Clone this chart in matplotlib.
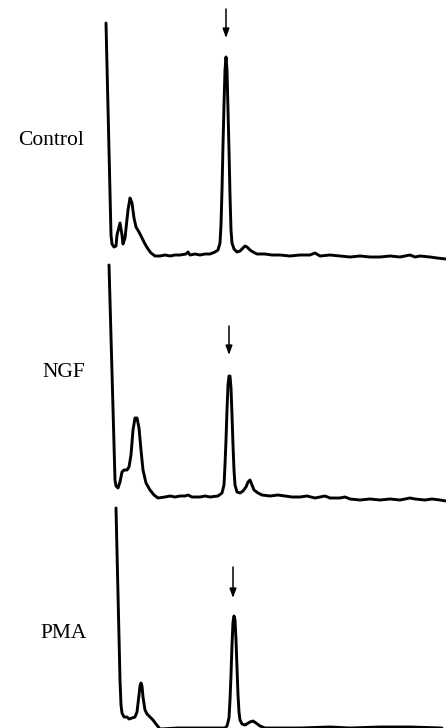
import matplotlib
matplotlib.use("Agg")
import matplotlib.pyplot as plt
import numpy as np

# ---- data: retention position (x) and detector signal above baseline ----
control_t = [106, 111, 112, 114, 116, 117, 120, 122, 123, 125, 128, 130, 132, 134, 136, 139, 142, 145,
             148, 151, 155, 160, 165, 170, 175, 180, 186, 188, 190, 195, 200, 205, 210, 215, 218, 220,
             221, 222, 223, 224, 225, 226, 227, 228, 229, 230, 231, 232, 234, 237, 240, 243, 245, 247,
             250, 253, 257, 265, 272, 280, 290, 300, 310, 315, 320, 330, 340, 350, 360, 370, 380, 390,
             400, 410, 415, 420, 430, 437, 446]
control_s = [233, 21, 12, 9, 10, 21, 33, 21, 12, 18, 46, 58, 53, 38, 29, 24, 18, 12,
             7, 3, 0, 0, 1, 0, 1, 1, 2, 4, 1, 2, 1, 2, 2, 4, 6, 13,
             31, 66, 111, 151, 186, 199, 186, 146, 106, 61, 26, 13, 7, 4, 5, 8, 10, 9,
             6, 4, 2, 2, 1, 1, 0, 1, 1, 3, 0, 1, 0, -1, 0, -1, -1, 0,
             -1, 1, -1, 0, -1, -2, -3]

ngf_t = [109, 115, 116, 118, 120, 122, 124, 127, 129, 131, 133, 135, 137, 139, 141, 143, 146, 150,
         154, 158, 165, 170, 175, 180, 185, 188, 192, 200, 205, 210, 218, 222, 224, 225, 226, 227,
         228, 229, 230, 231, 232, 233, 234, 235, 237, 240, 243, 246, 248, 250, 252, 254, 258, 262,
         270, 278, 285, 292, 300, 307, 315, 325, 330, 340, 345, 350, 360, 370, 380, 390, 400, 410,
         415, 425, 432, 440, 446]
ngf_s = [232, 17, 11, 9, 15, 25, 27, 27, 30, 42, 67, 79, 79, 69, 47, 27, 14, 7,
         2, -1, 0, 1, 0, 1, 1, 2, 0, 0, 1, 0, 1, 4, 12, 32, 57, 87,
         112, 121, 121, 109, 82, 52, 27, 12, 5, 4, 6, 10, 15, 17, 12, 7, 4, 2,
         1, 2, 1, 0, 0, 1, -1, 1, -1, -1, 0, -2, -3, -2, -3, -2, -3, -1,
         -2, -3, -2, -3, -4]

pma_t = [116, 120, 121, 122, 124, 127, 129, 132, 135, 137, 139, 140, 141, 142, 143, 145, 147, 150,
         153, 156, 160, 178, 200, 225, 227, 229, 230, 231, 232, 233, 234, 235, 236, 237, 238, 239,
         240, 242, 245, 250, 253, 256, 260, 265, 300, 330, 350, 380, 410, 442]
pma_s = [220, 48, 23, 15, 11, 11, 9, 10, 11, 16, 33, 42, 45, 42, 31, 18, 14, 11,
         8, 4, -1, 0, 0, 0, 2, 10, 28, 53, 83, 106, 112, 108, 88, 60, 33, 16,
         8, 4, 3, 6, 7, 5, 2, 0, 0, 1, 0, 1, 1, 0]

labels = ["Control", "NGF", "PMA"]
arrow_t = [226, 229, 233]   # retention position of the marked peak

# ---- layout ----
W, H = 446, 728
fig = plt.figure(figsize=(W / 100, H / 100), dpi=100)
ax = fig.add_axes([0, 0, 1, 1])
ax.set_xlim(0, W)
ax.set_ylim(H, 0)
ax.axis("off")

baselines = [256, 497, 728]
label_x = [18, 42, 40]
label_y = [145, 377, 638]
arrow_y = [(9, 38), (326, 355), (567, 598)]

traces = [(control_t, control_s), (ngf_t, ngf_s), (pma_t, pma_s)]
for (t, s), base in zip(traces, baselines):
    y = base - np.asarray(s, dtype=float)
    ax.plot(t, y, color="black", lw=2.1, solid_joinstyle="round", solid_capstyle="round", clip_on=True)

for lab, lx, ly in zip(labels, label_x, label_y):
    ax.text(lx, ly, lab, ha="left", va="baseline", fontsize=15.5,
            family=["Liberation Serif", "DejaVu Serif"], color="black")

for at, (y0, y1) in zip(arrow_t, arrow_y):
    ax.annotate("", xy=(at, y1), xytext=(at, y0),
                arrowprops=dict(arrowstyle="-|>,head_length=0.55,head_width=0.2",
                                color="black", lw=1.1, shrinkA=0, shrinkB=0))

fig.savefig("out.png", dpi=100, facecolor="white")
